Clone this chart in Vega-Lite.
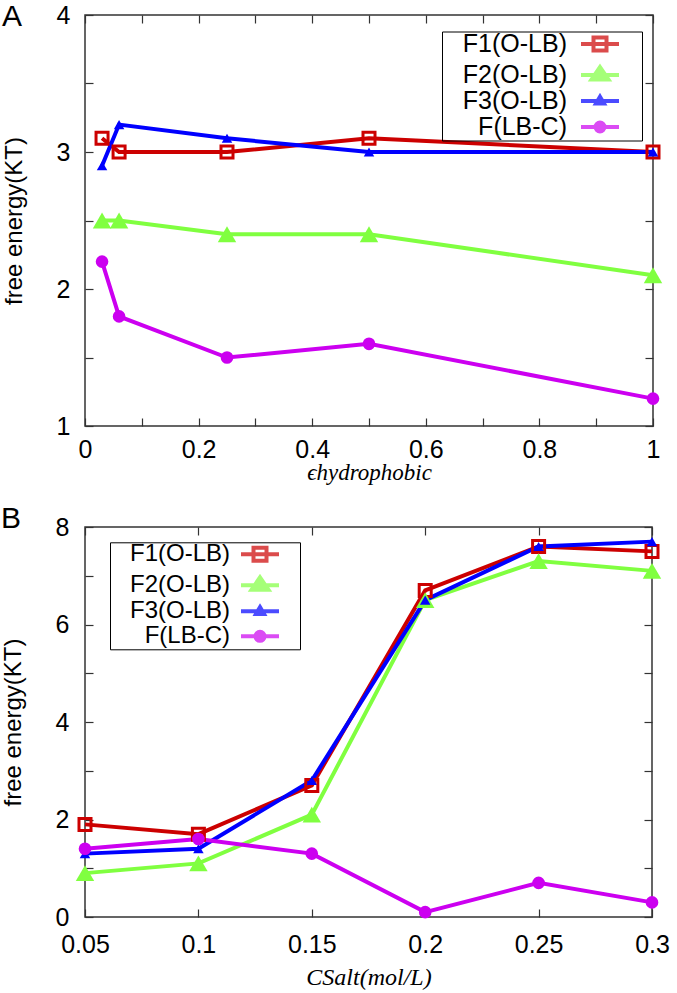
{
  "$schema": "https://vega.github.io/schema/vega-lite/v6.json",
  "background": "white",
  "padding": {"left": 0, "top": 1, "right": 0, "bottom": 0},
  "config": {
    "font": "Liberation Sans",
    "view": {"stroke": "#333333", "strokeWidth": 1.5},
    "axis": {"grid": false, "domain": false, "tickColor": "#333333", "tickWidth": 1.2, "labelFont": "Liberation Sans", "labelFontSize": 25, "labelColor": "black", "labelOverlap": false, "labelFlush": false, "titleFont": "Liberation Sans", "titleFontSize": 24, "titleFontWeight": "normal", "titleColor": "black"},
    "legend": {"labelFont": "Liberation Sans", "labelColor": "black"}
  },
  "datasets": {
    "a": [
      {"x": 0.03, "value": 3.1, "series": "F1(O-LB)"},
      {"x": 0.06, "value": 3.0, "series": "F1(O-LB)"},
      {"x": 0.25, "value": 3.0, "series": "F1(O-LB)"},
      {"x": 0.5, "value": 3.1, "series": "F1(O-LB)"},
      {"x": 1.0, "value": 3.0, "series": "F1(O-LB)"},
      {"x": 0.03, "value": 2.5, "series": "F2(O-LB)"},
      {"x": 0.06, "value": 2.5, "series": "F2(O-LB)"},
      {"x": 0.25, "value": 2.4, "series": "F2(O-LB)"},
      {"x": 0.5, "value": 2.4, "series": "F2(O-LB)"},
      {"x": 1.0, "value": 2.1, "series": "F2(O-LB)"},
      {"x": 0.03, "value": 2.9, "series": "F3(O-LB)"},
      {"x": 0.06, "value": 3.2, "series": "F3(O-LB)"},
      {"x": 0.25, "value": 3.1, "series": "F3(O-LB)"},
      {"x": 0.5, "value": 3.0, "series": "F3(O-LB)"},
      {"x": 1.0, "value": 3.0, "series": "F3(O-LB)"},
      {"x": 0.03, "value": 2.2, "series": "F(LB-C)"},
      {"x": 0.06, "value": 1.8, "series": "F(LB-C)"},
      {"x": 0.25, "value": 1.5, "series": "F(LB-C)"},
      {"x": 0.5, "value": 1.6, "series": "F(LB-C)"},
      {"x": 1.0, "value": 1.2, "series": "F(LB-C)"}
    ],
    "b": [
      {"x": 0.05, "value": 1.9, "series": "F1(O-LB)"},
      {"x": 0.1, "value": 1.7, "series": "F1(O-LB)"},
      {"x": 0.15, "value": 2.7, "series": "F1(O-LB)"},
      {"x": 0.2, "value": 6.7, "series": "F1(O-LB)"},
      {"x": 0.25, "value": 7.6, "series": "F1(O-LB)"},
      {"x": 0.3, "value": 7.5, "series": "F1(O-LB)"},
      {"x": 0.05, "value": 0.9, "series": "F2(O-LB)"},
      {"x": 0.1, "value": 1.1, "series": "F2(O-LB)"},
      {"x": 0.15, "value": 2.1, "series": "F2(O-LB)"},
      {"x": 0.2, "value": 6.5, "series": "F2(O-LB)"},
      {"x": 0.25, "value": 7.3, "series": "F2(O-LB)"},
      {"x": 0.3, "value": 7.1, "series": "F2(O-LB)"},
      {"x": 0.05, "value": 1.3, "series": "F3(O-LB)"},
      {"x": 0.1, "value": 1.4, "series": "F3(O-LB)"},
      {"x": 0.15, "value": 2.8, "series": "F3(O-LB)"},
      {"x": 0.2, "value": 6.5, "series": "F3(O-LB)"},
      {"x": 0.25, "value": 7.6, "series": "F3(O-LB)"},
      {"x": 0.3, "value": 7.7, "series": "F3(O-LB)"},
      {"x": 0.05, "value": 1.4, "series": "F(LB-C)"},
      {"x": 0.1, "value": 1.6, "series": "F(LB-C)"},
      {"x": 0.15, "value": 1.3, "series": "F(LB-C)"},
      {"x": 0.2, "value": 0.1, "series": "F(LB-C)"},
      {"x": 0.25, "value": 0.7, "series": "F(LB-C)"},
      {"x": 0.3, "value": 0.3, "series": "F(LB-C)"}
    ]
  },
  "spacing": 18,
  "resolve": {
    "scale": {"x": "independent", "y": "independent", "color": "independent", "shape": "independent", "fill": "independent"},
    "legend": {"color": "independent", "shape": "independent", "fill": "independent"}
  },
  "vconcat": [
    {
      "width": 568,
      "height": 411,
      "data": {"name": "a"},
      "title": {"text": "A", "anchor": "start", "frame": "bounds", "fontSize": 30, "fontWeight": "normal", "font": "Liberation Sans", "color": "black", "offset": 0, "dy": 29},
      "layer": [
        {
          "mark": {"type": "line", "strokeWidth": 4},
          "encoding": {
            "x": {"field": "x", "type": "quantitative", "scale": {"domain": [0, 1], "nice": false, "zero": false},
              "axis": {"orient": "bottom", "values": [0, 0.1, 0.2, 0.3, 0.4, 0.5, 0.6, 0.7, 0.8, 0.9, 1], "format": "~g", "labelExpr": "round(datum.value*10) % 2 == 0 ? datum.label : ''", "tickSize": -8, "labelPadding": 19, "title": "ϵhydrophobic", "titleFont": "Liberation Serif, DejaVu Serif", "titleFontStyle": "italic", "titleFontSize": 23, "titleBaseline": "middle", "titleY": 46}},
            "y": {"field": "value", "type": "quantitative", "scale": {"domain": [1, 4], "nice": false, "zero": false},
              "axis": {"orient": "left", "values": [1, 1.5, 2, 2.5, 3, 3.5, 4], "format": "~g", "labelExpr": "datum.value % 1 == 0 ? datum.label : ''", "tickSize": -8, "labelPadding": 23, "title": "free energy(KT)", "titlePadding": 30}},
            "color": {"field": "series", "type": "nominal",
              "scale": {"domain": ["F1(O-LB)", "F2(O-LB)", "F3(O-LB)", "F(LB-C)"], "range": ["#cc0000", "#80ff40", "#0000ff", "#cc00f0"]},
              "legend": {"orient": "none", "legendX": 357, "legendY": 16.5, "title": null, "symbolSize": 400, "symbolStrokeWidth": 4, "symbolFillColor": "transparent", "symbolOpacity": 1, "labelAlign": "right", "labelOffset": -45.5, "symbolOffset": 145.5, "labelFontSize": 25, "labelExpr": "'\u00a0\u00a0\u00a0' + datum.label", "padding": 0, "rowPadding": 0, "labelLimit": 300, "strokeColor": "#000000"}}
          }
        },
        {
          "transform": [{"filter": "false"}],
          "mark": {"type": "point", "filled": true},
          "encoding": {
            "x": {"field": "x", "type": "quantitative", "axis": null},
            "y": {"field": "value", "type": "quantitative", "axis": null},
            "shape": {"field": "series", "type": "nominal",
              "scale": {"domain": ["F1(O-LB)", "F2(O-LB)", "F3(O-LB)", "F(LB-C)"], "range": [
                "M-1.9,0H1.9M-0.65,-0.65H0.65V0.65H-0.65ZM3.4,0",
                "M-1.9,0H1.9M0,-0.8L0.85,0.45L-0.85,0.45ZM3.4,0",
                "M-1.9,0H1.9M0,-0.42L0.4,0.26L-0.4,0.26ZM3.4,0",
                "M-1.9,0H1.9M0.45,0A0.45,0.45,0,1,1,-0.45,0A0.45,0.45,0,1,1,0.45,0ZM3.4,0"]},
              "legend": {"symbolFillColor": "transparent"}},
            "fill": {"field": "series", "type": "nominal",
              "scale": {"domain": ["F1(O-LB)", "F2(O-LB)", "F3(O-LB)", "F(LB-C)"], "range": ["transparent", "#80ff40", "#0000ff", "#cc00f0"]},
              "legend": {"symbolFillColor": "transparent"}}
          }
        },
        {
          "transform": [{"filter": "datum.series == 'F1(O-LB)'"}],
          "mark": {"type": "point", "shape": "square", "filled": false, "color": "#cc0000", "strokeWidth": 3, "size": 144, "opacity": 1},
          "encoding": {
            "x": {"field": "x", "type": "quantitative", "axis": {"orient": "top", "values": [0, 0.1, 0.2, 0.3, 0.4, 0.5, 0.6, 0.7, 0.8, 0.9, 1], "labels": false, "tickSize": -8, "title": null}},
            "y": {"field": "value", "type": "quantitative", "axis": {"orient": "right", "values": [1, 1.5, 2, 2.5, 3, 3.5, 4], "labels": false, "tickSize": -8, "title": null}}
          }
        },
        {
          "transform": [{"filter": "datum.series == 'F2(O-LB)'"}],
          "mark": {"type": "point", "shape": "triangle-up", "filled": true, "color": "#80ff40", "strokeWidth": 0, "size": 340, "opacity": 1},
          "encoding": {
            "x": {"field": "x", "type": "quantitative", "axis": null},
            "y": {"field": "value", "type": "quantitative", "axis": null}
          }
        },
        {
          "transform": [{"filter": "datum.series == 'F3(O-LB)'"}],
          "mark": {"type": "point", "shape": "triangle-up", "filled": true, "color": "#0000ff", "strokeWidth": 0, "size": 110, "opacity": 1},
          "encoding": {
            "x": {"field": "x", "type": "quantitative", "axis": null},
            "y": {"field": "value", "type": "quantitative", "axis": null}
          }
        },
        {
          "transform": [{"filter": "datum.series == 'F(LB-C)'"}],
          "mark": {"type": "point", "shape": "circle", "filled": true, "color": "#cc00f0", "strokeWidth": 0, "size": 160, "opacity": 1},
          "encoding": {
            "x": {"field": "x", "type": "quantitative", "axis": null},
            "y": {"field": "value", "type": "quantitative", "axis": null}
          }
        }
      ]
    },
    {
      "width": 567,
      "height": 390,
      "data": {"name": "b"},
      "title": {"text": "B", "anchor": "start", "frame": "bounds", "fontSize": 30, "fontWeight": "normal", "font": "Liberation Sans", "color": "black", "offset": 0, "dy": 19},
      "layer": [
        {
          "mark": {"type": "line", "strokeWidth": 4},
          "encoding": {
            "x": {"field": "x", "type": "quantitative", "scale": {"domain": [0.05, 0.3], "nice": false, "zero": false},
              "axis": {"orient": "bottom", "values": [0.05, 0.1, 0.15, 0.2, 0.25, 0.3], "format": "~g", "tickSize": -8, "labelPadding": 23, "title": "CSalt(mol/L)", "titleFont": "Liberation Serif, DejaVu Serif", "titleFontStyle": "italic", "titleFontSize": 24, "titleBaseline": "middle", "titleY": 60}},
            "y": {"field": "value", "type": "quantitative", "scale": {"domain": [0, 8], "nice": false, "zero": false},
              "axis": {"orient": "left", "values": [0, 1, 2, 3, 4, 5, 6, 7, 8], "format": "~g", "labelExpr": "datum.value % 2 == 0 ? datum.label : ''", "tickSize": -8, "labelPadding": 24, "title": "free energy(KT)", "titlePadding": 30}},
            "color": {"field": "series", "type": "nominal",
              "scale": {"domain": ["F1(O-LB)", "F2(O-LB)", "F3(O-LB)", "F(LB-C)"], "range": ["#cc0000", "#80ff40", "#0000ff", "#cc00f0"]},
              "legend": {"orient": "none", "legendX": 25, "legendY": 15.3, "title": null, "symbolSize": 400, "symbolStrokeWidth": 4, "symbolFillColor": "transparent", "symbolOpacity": 1, "labelAlign": "right", "labelOffset": -42, "symbolOffset": 138, "labelFontSize": 24, "labelExpr": "'\u00a0\u00a0\u00a0' + datum.label", "padding": 0, "rowPadding": 0, "labelLimit": 300, "strokeColor": "#000000"}}
          }
        },
        {
          "transform": [{"filter": "false"}],
          "mark": {"type": "point", "filled": true},
          "encoding": {
            "x": {"field": "x", "type": "quantitative", "axis": null},
            "y": {"field": "value", "type": "quantitative", "axis": null},
            "shape": {"field": "series", "type": "nominal",
              "scale": {"domain": ["F1(O-LB)", "F2(O-LB)", "F3(O-LB)", "F(LB-C)"], "range": [
                "M-1.9,0H1.9M-0.65,-0.65H0.65V0.65H-0.65ZM3.2,0",
                "M-1.9,0H1.9M0,-0.8L0.85,0.45L-0.85,0.45ZM3.2,0",
                "M-1.9,0H1.9M0,-0.42L0.4,0.26L-0.4,0.26ZM3.2,0",
                "M-1.9,0H1.9M0.45,0A0.45,0.45,0,1,1,-0.45,0A0.45,0.45,0,1,1,0.45,0ZM3.2,0"]},
              "legend": {"symbolFillColor": "transparent"}},
            "fill": {"field": "series", "type": "nominal",
              "scale": {"domain": ["F1(O-LB)", "F2(O-LB)", "F3(O-LB)", "F(LB-C)"], "range": ["transparent", "#80ff40", "#0000ff", "#cc00f0"]},
              "legend": {"symbolFillColor": "transparent"}}
          }
        },
        {
          "transform": [{"filter": "datum.series == 'F1(O-LB)'"}],
          "mark": {"type": "point", "shape": "square", "filled": false, "color": "#cc0000", "strokeWidth": 3, "size": 144, "opacity": 1},
          "encoding": {
            "x": {"field": "x", "type": "quantitative", "axis": {"orient": "top", "values": [0.05, 0.1, 0.15, 0.2, 0.25, 0.3], "labels": false, "tickSize": -8, "title": null}},
            "y": {"field": "value", "type": "quantitative", "axis": {"orient": "right", "values": [0, 1, 2, 3, 4, 5, 6, 7, 8], "labels": false, "tickSize": -8, "title": null}}
          }
        },
        {
          "transform": [{"filter": "datum.series == 'F2(O-LB)'"}],
          "mark": {"type": "point", "shape": "triangle-up", "filled": true, "color": "#80ff40", "strokeWidth": 0, "size": 340, "opacity": 1},
          "encoding": {
            "x": {"field": "x", "type": "quantitative", "axis": null},
            "y": {"field": "value", "type": "quantitative", "axis": null}
          }
        },
        {
          "transform": [{"filter": "datum.series == 'F3(O-LB)'"}],
          "mark": {"type": "point", "shape": "triangle-up", "filled": true, "color": "#0000ff", "strokeWidth": 0, "size": 110, "opacity": 1},
          "encoding": {
            "x": {"field": "x", "type": "quantitative", "axis": null},
            "y": {"field": "value", "type": "quantitative", "axis": null}
          }
        },
        {
          "transform": [{"filter": "datum.series == 'F(LB-C)'"}],
          "mark": {"type": "point", "shape": "circle", "filled": true, "color": "#cc00f0", "strokeWidth": 0, "size": 160, "opacity": 1},
          "encoding": {
            "x": {"field": "x", "type": "quantitative", "axis": null},
            "y": {"field": "value", "type": "quantitative", "axis": null}
          }
        }
      ]
    }
  ]
}
